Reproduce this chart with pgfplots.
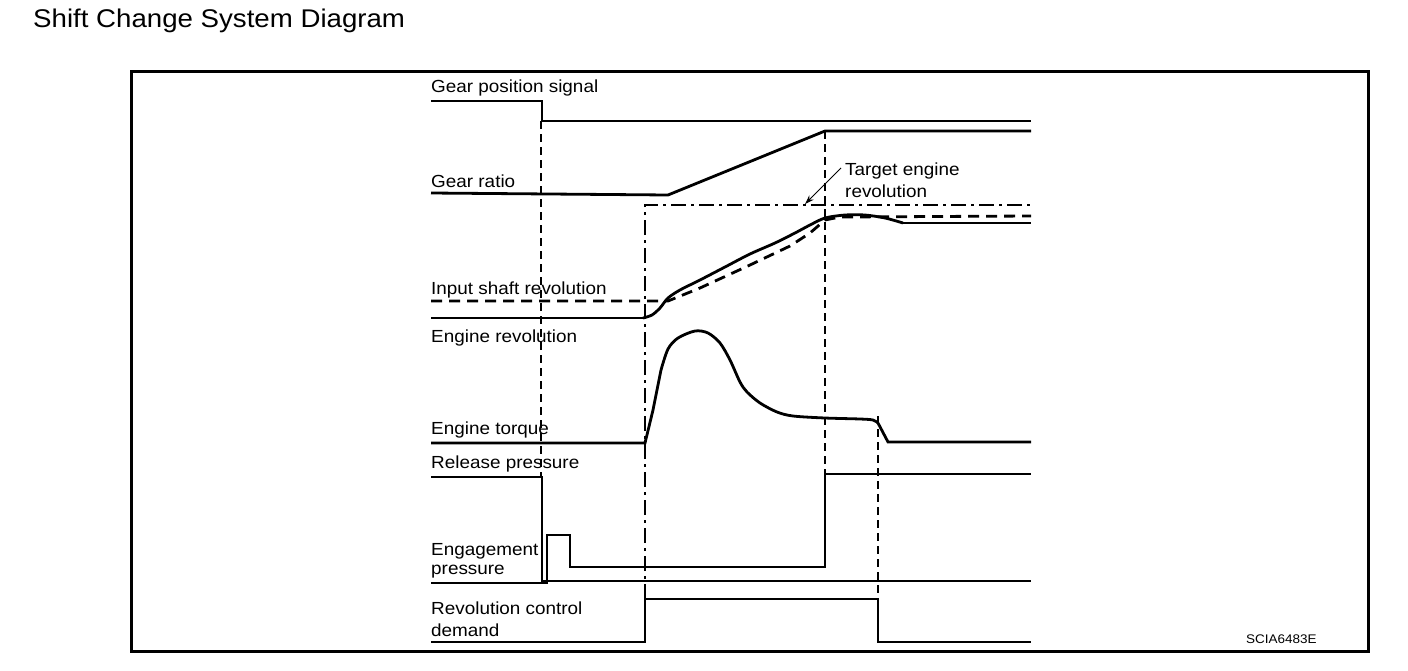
\documentclass[border=0pt]{standalone}
\usepackage{pgfplots}
\pgfplotsset{compat=1.18}
\usetikzlibrary{arrows.meta}
\usepackage{fontspec}
\setmainfont{Liberation Sans}[FakeStretch=1.08]
\tikzset{lbl/.style={anchor=base west, inner sep=0pt, font=\fontsize{17.5}{20}\selectfont},
  sig/.style={black, solid, no markers, line width=2.8pt, line join=miter},
  guide/.style={black, no markers, line width=1.6pt, dash pattern=on 8pt off 5pt}}
\begin{document}
\begin{tikzpicture}
\useasboundingbox (0,0) rectangle (1408pt,670pt);
\begin{axis}[
  at={(0,0)}, anchor=south west,
  scale only axis, width=1408pt, height=670pt,
  xmin=0, xmax=1408, ymin=0, ymax=670, y dir=reverse,
  hide axis, clip=false,
]
% frame
\draw[line width=3pt] (axis cs:131,71) rectangle (axis cs:1368,651);
% title and code
\node[anchor=base west, inner sep=0pt, font=\fontsize{25.6}{28}\selectfont] at (axis cs:33,27) {Shift Change System Diagram};
\node[anchor=base west, inner sep=0pt, font=\fontsize{12.5}{14}\selectfont] at (axis cs:1246,643) {SCIA6483E};

% vertical guide lines
\addplot[guide] coordinates {(541,121) (541,477)};
\addplot[guide] coordinates {(825,131) (825,474)};
\addplot[guide] coordinates {(878,416) (878,599)};
% target engine revolution (dash-dot)
\addplot[black, no markers, line width=1.6pt, dash pattern=on 15pt off 5pt on 3pt off 5pt] coordinates {(645,599) (645,205) (1031,205)};

% gear position signal
\addplot[sig] coordinates {(431,101) (542,101) (542,121) (1031,121)};
% gear ratio
\addplot[sig] coordinates {(431,193) (668,195) (825,131) (1031,131)};
% input shaft revolution (dashed)
\addplot[sig, dash pattern=on 11pt off 7pt] coordinates {(431,301) (668,301) (700,288) (750,265) (790,246) (810,233) (825,220) (840,217) (1031,216)};
% engine revolution
\addplot[sig] coordinates {(431,318) (643,318)};
\addplot[sig, smooth] coordinates {(643,318) (652,315) (660,308) (668,298) (680,290) (700,280) (725,267) (750,254) (775,243) (795,233) (810,225) (825,218) (845,215) (865,215) (885,218) (903,223)};
\addplot[sig] coordinates {(903,223) (1031,223)};
% engine torque
\addplot[sig] coordinates {(431,443) (645,443) (653,410) (661,370)};
\addplot[sig, smooth] coordinates {(661,370) (668,349) (678,338) (695,331) (708,333) (720,343) (730,360) (740,382) (747,392) (760,403) (777,412) (793,416) (825,418) (860,419) (873,420) (878,423)};
\addplot[sig] coordinates {(878,423) (888,442) (1031,442)};
% release pressure
\addplot[sig] coordinates {(431,477) (542,477) (542,581) (1031,581)};
% engagement pressure
\addplot[sig] coordinates {(431,583) (547,583) (547,535) (570,535) (570,567) (825,567) (825,474) (1031,474)};
% revolution control demand
\addplot[sig] coordinates {(431,642) (645,642) (645,599) (878,599) (878,642) (1031,642)};

% arrow
\draw[-{Stealth[length=9pt,width=6pt]}, line width=1pt] (axis cs:841,168) -- (axis cs:805,204);

% labels
\node[lbl] at (axis cs:431,92) {Gear position signal};
\node[lbl] at (axis cs:431,187) {Gear ratio};
\node[lbl] at (axis cs:431,294) {Input shaft revolution};
\node[lbl] at (axis cs:431,342) {Engine revolution};
\node[lbl] at (axis cs:431,434) {Engine torque};
\node[lbl] at (axis cs:431,468) {Release pressure};
\node[lbl] at (axis cs:431,555) {Engagement};
\node[lbl] at (axis cs:431,574) {pressure};
\node[lbl] at (axis cs:431,614) {Revolution control};
\node[lbl] at (axis cs:431,636) {demand};
\node[lbl] at (axis cs:845,175) {Target engine};
\node[lbl] at (axis cs:845,197) {revolution};
\end{axis}
\end{tikzpicture}
\end{document}
